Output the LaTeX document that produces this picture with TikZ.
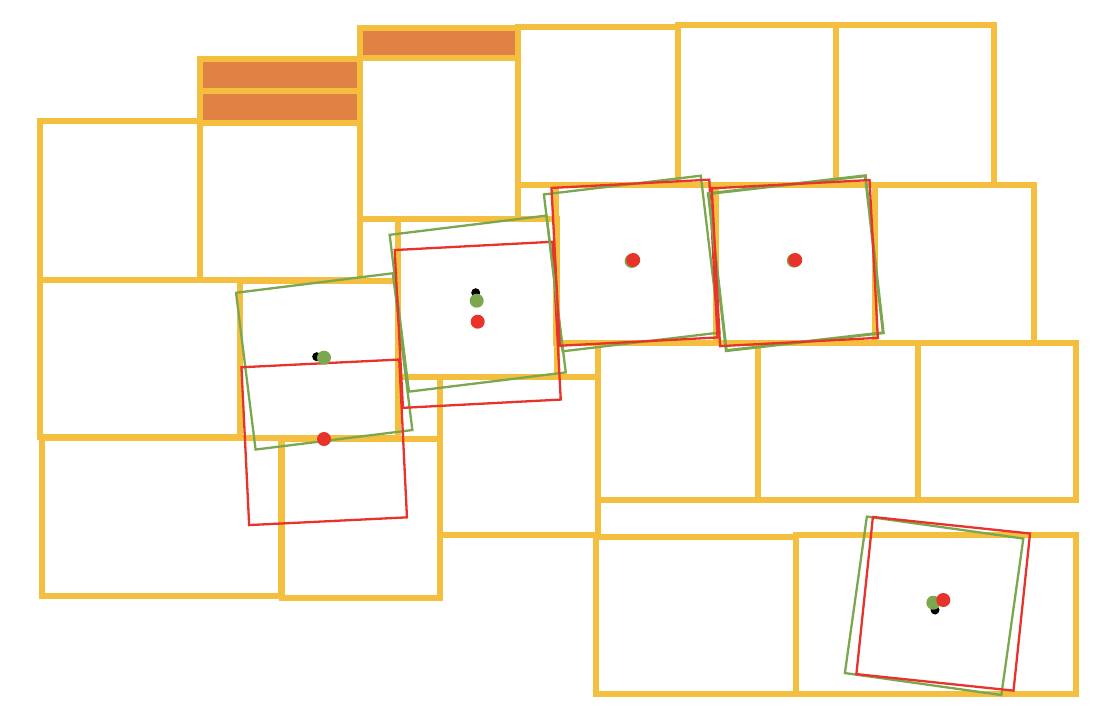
\documentclass[tikz,border=0pt]{standalone}
\definecolor{tileyellow}{RGB}{244,191,63}
\definecolor{tileorange}{RGB}{223,130,68}
\definecolor{guessgreen}{RGB}{123,168,79}
\definecolor{truthred}{RGB}{232,51,42}
\begin{document}
\begin{tikzpicture}[x=1pt,y=-1pt]
\tikzstyle{tile}=[draw=tileyellow,line width=6pt]
\tikzstyle{filled}=[tile,fill=tileorange]
\tikzstyle{guess}=[draw=guessgreen,line width=2.3pt,minimum size=158pt,inner sep=0pt,outer sep=0pt]
\tikzstyle{truth}=[guess,draw=truthred]
\useasboundingbox (0,0) rectangle (1102,716);
% tiles
\foreach \xa/\ya/\xb/\yb in {40/121/200/280, 200/123/360/280, 360/58/518/219,
  518/27/678/185, 678/25/836/185, 836/25/994/185, 398/219/557/377,
  556/185/716/343, 716/185/875/343, 875/185/1034/343, 40/280/240/437,
  240/281/398/438, 42/438/281/596, 282/439/440/598, 440/377/598/535,
  598/343/758/500, 758/343/918/500, 918/343/1076/500,
  596/537/796/694, 796/535/1076/694}
  \draw[tile] (\xa,\ya) rectangle (\xb,\yb);
\foreach \xa/\ya/\xb/\yb in {200/59/360/91, 200/91/360/123, 360/28/518/58}
  \draw[filled] (\xa,\ya) rectangle (\xb,\yb);
% estimates and ground truth
\node[guess,rotate=7.1] (g1) at (324.2,361.4) {};
\node[truth,rotate=2.8] (r1) at (324.2,442.3) {};
\node[guess,rotate=7.0] (g2) at (477.7,303.6) {};
\node[truth,rotate=3.0] (r2) at (477.7,324.8) {};
\node[guess,rotate=6.8] (g3) at (631.7,263.5) {};
\node[truth,rotate=3.0] (r3) at (634.5,262.7) {};
\node[guess,rotate=6.5,line width=3pt] (g4) at (795.8,263.2) {};
\node[truth,rotate=3.0] (r4) at (794.8,263.1) {};
\node[guess,rotate=-8.0] (g5) at (934.1,605.8) {};
\node[truth,rotate=-6.0] (r5) at (943.2,603.8) {};
% centres
\fill[black] (316.7,356.7) circle (4.5pt) (475.7,292.7) circle (4.5pt) (935,610) circle (4.5pt);
\fill[guessgreen] (324,357.7) circle (7pt) (476.7,300.7) circle (7pt) (631.6,261) circle (7pt)
  (793.8,260.6) circle (7pt) (933.3,602.7) circle (7pt);
\fill[truthred] (324,439) circle (7pt) (477.7,321.7) circle (7pt) (633.2,260) circle (7pt)
  (795.2,260) circle (7pt) (943.3,600) circle (7pt);
\end{tikzpicture}
\end{document}
